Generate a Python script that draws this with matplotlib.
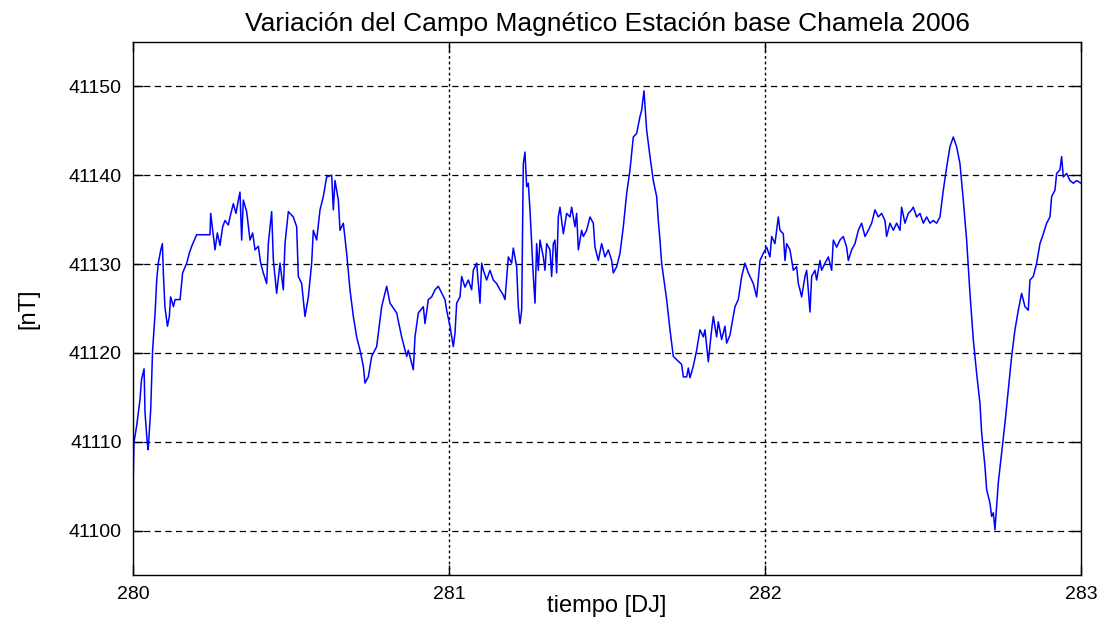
import matplotlib
matplotlib.use("Agg")
import matplotlib.pyplot as plt

# Dia juliano (fraccion sobre 280) y campo total [nT]
dias = [
    0.000, 0.001, 0.003, 0.012, 0.022, 0.027, 0.035, 0.038, 0.045, 0.048,
    0.056, 0.062, 0.070, 0.075, 0.080, 0.088, 0.093, 0.096, 0.101, 0.109,
    0.115, 0.119, 0.128, 0.133, 0.149, 0.157, 0.170, 0.178, 0.1857, 0.2015,
    0.2437, 0.2458, 0.2522, 0.2595, 0.2669, 0.2753, 0.2838, 0.2911, 0.3017, 0.3070,
    0.3175, 0.3259, 0.3333, 0.3386, 0.3439, 0.3491, 0.3597, 0.3703, 0.3787, 0.3861,
    0.3966, 0.4040, 0.4124, 0.4230, 0.4283, 0.4388, 0.4441, 0.4546, 0.4652, 0.4757,
    0.4810, 0.4916, 0.5074, 0.5179, 0.5232, 0.5338, 0.5443, 0.5549, 0.5654, 0.5707,
    0.5812, 0.5918, 0.6023, 0.6129, 0.6287, 0.6340, 0.6392, 0.6498, 0.6551, 0.6656,
    0.6762, 0.6867, 0.6973, 0.7078, 0.7184, 0.7289, 0.7342, 0.7447, 0.7553, 0.7711,
    0.7869, 0.8028, 0.8133, 0.8344, 0.8502, 0.8661, 0.8713, 0.8871, 0.8924, 0.9030,
    0.9188, 0.9241, 0.9346, 0.9451, 0.9557, 0.9662, 0.9873,
    0.9926, 1.0032, 1.0137, 1.0190, 1.0243, 1.0348, 1.0401, 1.0506, 1.0612, 1.0717,
    1.0770, 1.0876, 1.0928, 1.0981, 1.1034, 1.1086, 1.1192, 1.1297, 1.1403, 1.1509,
    1.1614, 1.1719, 1.1772, 1.1878, 1.1983, 1.2036, 1.2141, 1.2194, 1.2247, 1.2300,
    1.2352, 1.2405, 1.2458, 1.2510, 1.2563, 1.2616, 1.2669, 1.2722, 1.2774, 1.2827,
    1.2880, 1.2985, 1.3038, 1.3091, 1.3196, 1.3249, 1.3302, 1.3354, 1.3407, 1.3460,
    1.3513, 1.3618, 1.3724, 1.3829, 1.3882, 1.3987, 1.4040, 1.4093, 1.4198, 1.4251,
    1.4356, 1.4462, 1.4567, 1.4620, 1.4726, 1.4831, 1.4937, 1.5042, 1.5148, 1.5201,
    1.5306, 1.5411, 1.5517, 1.5622, 1.5728, 1.5833, 1.5939, 1.6044, 1.6097, 1.6171,
    1.6255, 1.6361, 1.6466, 1.6572, 1.6624, 1.6677, 1.6730, 1.6888, 1.6994, 1.7046,
    1.7099, 1.7363, 1.7416, 1.7521, 1.7574, 1.7627, 1.7732, 1.7838, 1.7943, 1.8049,
    1.8101, 1.8207, 1.8312, 1.8365, 1.8471, 1.8523, 1.8629, 1.8734, 1.8787, 1.8893,
    1.8945, 1.9051, 1.9156, 1.9262, 1.9367, 1.9473, 1.9578, 1.9631, 1.9737,
    1.9842, 1.9947, 2.0053, 2.0158, 2.0211, 2.0316, 2.0422, 2.0475, 2.0580, 2.0633,
    2.0686, 2.0791, 2.0897, 2.1002, 2.1055, 2.1108, 2.1160, 2.1266, 2.1319, 2.1371,
    2.1424, 2.1477, 2.1582, 2.1635, 2.1741, 2.1793, 2.1899, 2.2004, 2.2110, 2.2163,
    2.2268, 2.2373, 2.2479, 2.2584, 2.2637, 2.2743, 2.2848, 2.2954, 2.3059, 2.3165,
    2.3270, 2.3376, 2.3481, 2.3586, 2.3692, 2.3797, 2.3850, 2.3956, 2.4061, 2.4167,
    2.4272, 2.4325, 2.4430, 2.4536, 2.4641, 2.4694, 2.4800, 2.4905, 2.5011, 2.5116,
    2.5222, 2.5327, 2.5433, 2.5538, 2.5643, 2.5749, 2.5854, 2.5960, 2.6065, 2.6171,
    2.6276, 2.6382, 2.6487, 2.6593, 2.6698, 2.6804, 2.6857, 2.6962, 2.7015, 2.7120,
    2.7173, 2.7226, 2.7278, 2.7331, 2.7384, 2.7489, 2.7595, 2.7700, 2.7806, 2.7911,
    2.8017, 2.8122, 2.8228, 2.8333, 2.8386, 2.8491, 2.8597, 2.8703, 2.8808, 2.8914,
    2.9019, 2.9072, 2.9177, 2.9230, 2.9335, 2.9388, 2.9441, 2.9547, 2.9652, 2.9757,
    2.9863, 3.0000,
]
campo = [
    41104.6, 41106.5, 41109.9, 41111.9, 41114.7, 41117.0, 41118.2, 41113.3, 41109.9, 41109.1,
    41113.6, 41120.3, 41124.5, 41128.2, 41130.1, 41131.6, 41132.3, 41129.0, 41125.2, 41123.0,
    41124.1, 41126.3, 41125.2, 41126.0, 41126.0, 41129.0, 41130.1, 41131.2, 41132.0, 41133.3,
    41133.3, 41135.7, 41133.8, 41131.6, 41133.5, 41132.1, 41134.2, 41134.9, 41134.4, 41135.3,
    41136.8, 41135.7, 41137.2, 41138.1, 41132.7, 41137.2, 41135.9, 41132.7, 41133.5, 41131.6,
    41132.0, 41130.1, 41129.0, 41127.8, 41132.3, 41135.9, 41130.5, 41126.7, 41130.1, 41127.1,
    41132.3, 41135.9, 41135.3, 41134.2, 41128.6, 41127.8, 41124.1, 41126.3, 41130.1, 41133.8,
    41132.7, 41136.1, 41137.6, 41139.8, 41140.0, 41136.1, 41139.4, 41137.2, 41133.8, 41134.6,
    41131.2, 41127.1, 41124.1, 41121.8, 41120.3, 41118.5, 41116.6, 41117.3, 41119.6, 41120.7,
    41125.2, 41127.5, 41125.6, 41124.5, 41121.8, 41119.6, 41120.3, 41118.1, 41121.8, 41124.5,
    41125.2, 41123.3, 41126.0, 41126.3, 41127.1, 41127.5, 41126.0,
    41124.8, 41123.0, 41120.7, 41122.2, 41125.6, 41126.3, 41128.6, 41127.4, 41128.2, 41127.1,
    41129.3, 41130.1, 41127.8, 41125.6, 41130.1, 41129.3, 41128.2, 41129.3, 41128.2, 41127.8,
    41127.1, 41126.5, 41126.0, 41130.8, 41130.1, 41131.8, 41129.7, 41125.2, 41123.3, 41124.8,
    41141.3, 41142.6, 41138.7, 41139.1, 41136.1, 41132.3, 41128.6, 41125.6, 41132.3, 41129.3,
    41132.7, 41130.8, 41129.3, 41132.3, 41131.6, 41128.6, 41132.3, 41132.7, 41129.0, 41135.3,
    41136.4, 41133.4, 41135.7, 41135.3, 41136.4, 41134.2, 41135.7, 41131.6, 41133.8, 41133.1,
    41133.8, 41135.3, 41134.6, 41131.9, 41130.4, 41132.3, 41130.8, 41131.6, 41130.4, 41129.0,
    41129.7, 41131.2, 41134.2, 41137.9, 41140.6, 41144.3, 41144.7, 41146.6, 41147.3, 41149.5,
    41145.1, 41142.1, 41139.4, 41137.6, 41134.9, 41132.7, 41130.1, 41126.0, 41122.6, 41121.1,
    41119.6, 41118.7, 41117.3, 41117.3, 41118.3, 41117.2, 41118.5, 41120.3, 41122.6, 41121.8,
    41122.6, 41119.0, 41122.6, 41124.1, 41121.8, 41123.5, 41121.5, 41123.0, 41121.1, 41122.0,
    41123.1, 41125.2, 41126.0, 41128.6, 41130.1, 41129.0, 41128.2, 41127.8, 41126.3,
    41130.4, 41131.2, 41131.9, 41130.8, 41133.1, 41132.3, 41135.3, 41133.8, 41133.4, 41130.4,
    41132.3, 41131.6, 41129.3, 41129.7, 41127.8, 41127.1, 41126.3, 41128.6, 41129.3, 41127.1,
    41124.6, 41128.6, 41129.3, 41128.2, 41130.4, 41129.3, 41130.1, 41130.8, 41129.3, 41132.7,
    41131.9, 41132.7, 41133.1, 41131.9, 41130.4, 41131.6, 41132.3, 41133.8, 41134.6, 41133.1,
    41133.8, 41134.6, 41136.1, 41135.3, 41135.7, 41134.9, 41133.1, 41134.6, 41133.8, 41134.6,
    41133.8, 41136.4, 41134.6, 41135.7, 41136.1, 41136.4, 41135.3, 41135.7, 41134.6, 41135.3,
    41134.6, 41134.9, 41134.6, 41135.3, 41138.3, 41140.9, 41143.2, 41144.3, 41143.2, 41141.3,
    41137.2, 41132.7, 41126.7, 41121.5, 41117.7, 41114.3, 41111.0, 41107.2, 41104.6, 41103.1,
    41101.6, 41102.0, 41100.1, 41102.7, 41105.4, 41108.7, 41112.1, 41115.8, 41119.6, 41122.6,
    41124.8, 41126.7, 41125.2, 41124.8, 41128.2, 41128.6, 41130.1, 41132.3, 41133.4, 41134.6,
    41135.3, 41137.6, 41138.3, 41140.2, 41140.6, 41142.1, 41139.8, 41140.2, 41139.4, 41139.1,
    41139.4, 41139.1,
]

xticks = [280, 281, 282, 283]
yticks = [41100, 41110, 41120, 41130, 41140, 41150]

plt.rcParams['font.family'] = ['Liberation Sans', 'DejaVu Sans']

fig = plt.figure(figsize=(11.01, 6.29), dpi=100)
ax = fig.add_axes([0.1208, 0.0859, 0.861, 0.8474])

x = [280 + d for d in dias]
ax.plot(x, campo, color='#0000ff', linewidth=1.1)

ax.set_xlim(280, 283)
ax.set_ylim(41095, 41155)
ax.set_xticks(xticks)
ax.set_yticks(yticks)
ax.tick_params(direction='in', length=7, width=1, top=True, right=True,
               labelsize=14, pad=8)

# rejilla estilo matlab
for yv in yticks:
    ax.axhline(yv, color='k', linewidth=0.9, linestyle=(0, (5, 3.5)), zorder=0)
for xv in xticks[1:-1]:
    ax.axvline(xv, color='k', linewidth=1.0, linestyle=(0, (2, 2)), zorder=0)

for s in ax.spines.values():
    s.set_linewidth(1.0)

ax.set_title('Variación del Campo Magnético Estación base Chamela 2006',
             fontsize=19, pad=8)
ax.set_xlabel('tiempo [DJ]', fontsize=17)
ax.set_ylabel('[nT]', fontsize=17)
ax.xaxis.set_label_coords(0.5, -0.038)
ax.yaxis.set_label_coords(-0.099, 0.5)

fig.savefig('out.png', dpi=100)
